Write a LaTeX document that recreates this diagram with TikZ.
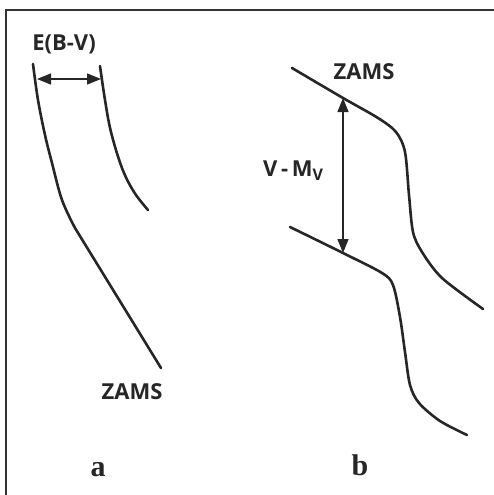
\documentclass[tikz,border=0pt]{standalone}
\usepackage{fontspec}
\setmainfont{Liberation Serif}
\newfontfamily\labfont{Open Sans}
\usetikzlibrary{arrows.meta}
\tikzset{
  curve/.style={line width=2.6pt, line cap=round, line join=round, color=black!85},
  dimarrow/.style={line width=1.3pt, color=black!85, arrows={Triangle[length=14pt,width=11pt]-Triangle[length=14pt,width=11pt]}},
  frameline/.style={line width=1.6pt, color=black!80},
  lab/.style={font=\labfont\bfseries\fontsize{22}{26}\selectfont, text=black!85, inner sep=0pt},
  panel/.style={font=\bfseries\fontsize{30}{32}\selectfont, text=black!85, inner sep=0pt}
}
\begin{document}
\begin{tikzpicture}[x=1pt,y=-1pt]
\useasboundingbox (0,0) rectangle (494,495);
% frame (extends beyond the visible area)
\draw[frameline] (6,495) -- (6,10) -- (494,10);
% panel a
\draw[curve] plot[smooth, tension=0.6] coordinates {(33,64) (38,100) (45,135) (52,163) (62,200) (75,228)} -- (161,368);
\draw[curve] plot[smooth, tension=0.6] coordinates {(100,66) (105,100) (111,132) (122,168) (134,192) (148,210)};
\coordinate (ebl) at (37,79);
\coordinate (ebr) at (101,79);
\draw[dimarrow] (ebl) -- (ebr);
\node[lab] (ebv) at (64,44) {E(B-V)};
\node[lab] (zamsa) at (132,392) {ZAMS};
\node[panel, anchor=base] (pa) at (98,476) {a};
% panel b
\draw[curve] plot[smooth, tension=0.5] coordinates {(292,68) (343,98) (378,118) (396,132) (405,152) (409,195) (413,232) (422,252) (442,278) (483,309)};
\draw[curve] plot[smooth, tension=0.5] coordinates {(290,227) (343,253) (382,273) (393,285) (400,317) (405,352) (410,385) (419,403) (440,421) (467,435)};
\coordinate (vt) at (343,98);
\coordinate (vb) at (343,253);
\draw[dimarrow] (vt) -- (vb);
\node[lab] (zamsb) at (364,72) {ZAMS};
\node[lab, anchor=base west] (vmv) at (263,176) {V\,-\,M\raisebox{-4pt}{\fontsize{16}{17}\selectfont V}};
\node[panel, anchor=base] (pb) at (360,475) {b};
\end{tikzpicture}
\end{document}
